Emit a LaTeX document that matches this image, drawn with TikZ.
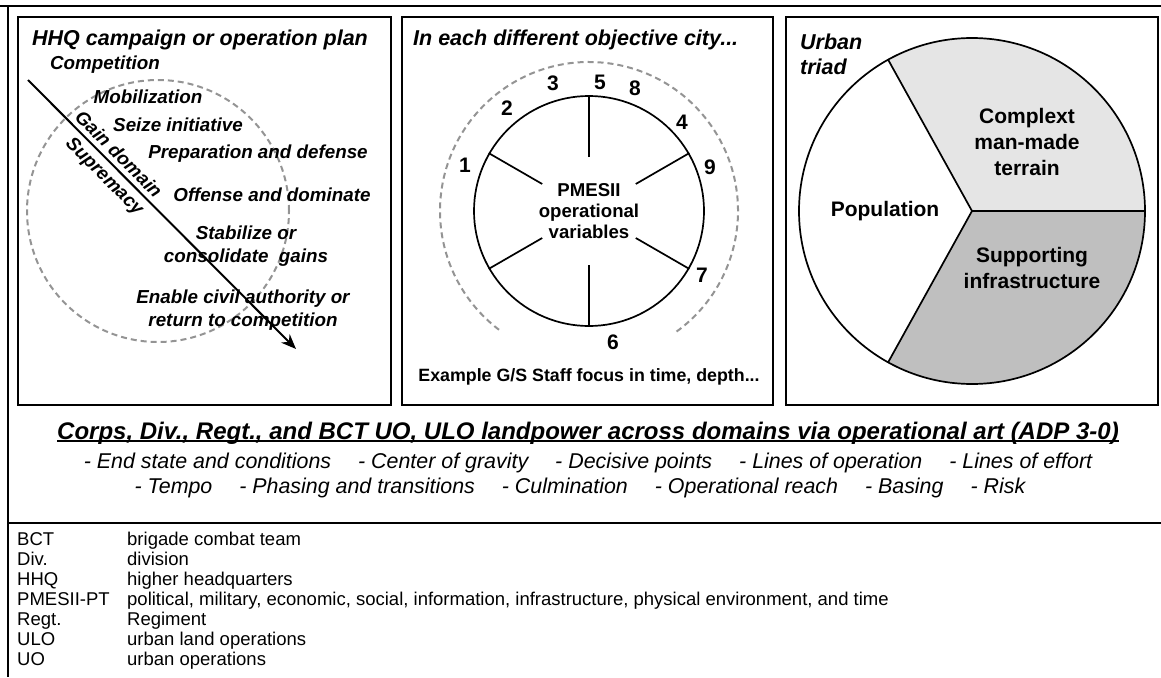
\documentclass[tikz,border=0pt]{standalone}
\usepackage{fontspec}
\setmainfont{Liberation Sans}
\usetikzlibrary{positioning, arrows.meta}

\tikzset{
  panel/.style={draw, line width=2.2pt},
  ringdash/.style={draw=black!42, line width=2pt, dash pattern=on 6pt off 4pt},
  heavy/.style={line width=1.7pt},
  paneltitle/.style={inner sep=0, anchor=west, align=left, font=\fontsize{21.5}{25}\selectfont\bfseries\itshape},
  phase/.style={inner sep=0, align=center, font=\fontsize{18.8}{23}\selectfont\bfseries\itshape},
  varnum/.style={inner sep=0, font=\fontsize{21}{24}\selectfont\bfseries},
  wheeltext/.style={inner sep=0, align=center, font=\fontsize{18.6}{21}\selectfont\bfseries},
  triadlabel/.style={inner sep=0, align=center, font=\fontsize{21}{26}\selectfont\bfseries},
  artline/.style={inner sep=0, font=\fontsize{21.4}{25}\selectfont\itshape},
  abbr/.style={inner sep=0, anchor=base west, font=\fontsize{18.5}{21}\selectfont},
}

\begin{document}
\begin{tikzpicture}[x=1pt, y=1pt]
    \useasboundingbox (0,0) rectangle (1161,-677);
    \draw[line width=2.5pt] (0,-6) -- (1161,-6);
    \draw[line width=2.5pt] (8,-6) -- (8,-677);
    \draw[line width=2.5pt] (8,-523) -- (1161,-523);

    \draw[panel] (18,-17) rectangle (391,-405);
    \draw[panel] (402,-17) rectangle (773,-405);
    \draw[panel] (786,-17) rectangle (1158,-405);

    \node[paneltitle] (plan) at (32,-40) {HHQ campaign or operation plan};
    \draw[ringdash] (158,-211) circle[radius=131];
    \node[phase] (competition) at (105,-65) {Competition};
    \node[phase] (mobilization) at (148,-97) {Mobilization};
    \node[phase] (initiative) at (178,-125) {Seize initiative};
    \node[phase] (defense) at (258,-154) {Preparation and defense};
    \node[phase] (dominate) at (272,-195) {Offense and dominate};
    \node[phase] (stabilize) at (246,-246) {Stabilize or\\consolidate~ gains};
    \node[phase] (enable) at (243,-310) {Enable civil authority or\\return to competition};
    \coordinate (gainstart) at (28,-80);
    \coordinate (gainend) at (296,-349);
    \draw[line width=2pt, -{Stealth[length=15pt, width=12pt]}] (gainstart) -- (gainend);
    \node[phase, rotate=-45] (gaindomain) at (119,-154) {Gain domain};
    \node[phase, rotate=-45] (supremacy) at (104,-177) {Supremacy};

    \node[paneltitle] (city) at (413,-40) {In each different objective city...};
    \node[circle, draw, heavy, minimum size=230pt, inner sep=0] (wheel) at (589,-211) {};
    \draw[ringdash] (wheel.center) ++(-54:149) arc[start angle=-54, end angle=234, radius=149];
    \draw[heavy] (wheel.center) ++(90:54) -- (wheel.90);
    \draw[heavy] (wheel.center) ++(30:54) -- (wheel.30);
    \draw[heavy] (wheel.center) ++(150:54) -- (wheel.150);
    \draw[heavy] (wheel.center) ++(210:54) -- (wheel.210);
    \draw[heavy] (wheel.center) ++(270:54) -- (wheel.270);
    \draw[heavy] (wheel.center) ++(330:54) -- (wheel.330);
    \node[wheeltext] (pmesii) at (wheel.center) {PMESII\\operational\\variables};
    \node[varnum] (n1) at (465,-165) {1};
    \node[varnum] (n2) at (507,-108) {2};
    \node[varnum] (n3) at (553,-83) {3};
    \node[varnum] (n5) at (600,-82) {5};
    \node[varnum] (n8) at (635,-88) {8};
    \node[varnum] (n4) at (682,-122) {4};
    \node[varnum] (n9) at (710,-167) {9};
    \node[varnum] (n7) at (702,-275) {7};
    \node[varnum] (n6) at (613,-342) {6};
    \node[wheeltext, font=\fontsize{17.8}{21}\selectfont\bfseries] (staff) at (589,-377) {Example G/S Staff focus in time, depth...};

    \node[paneltitle] (urban) at (800,-54) {Urban\\triad};
    \coordinate (triad) at (972,-211);
    \fill[black!10] (triad) -- ++(0:173) arc[start angle=0, end angle=119, radius=173] -- cycle;
    \fill[black!25] (triad) -- ++(241:173) arc[start angle=241, end angle=360, radius=173] -- cycle;
    \draw[heavy] (triad) circle[radius=173];
    \draw[heavy] (triad) -- ++(0:173);
    \draw[heavy] (triad) -- ++(119:173);
    \draw[heavy] (triad) -- ++(241:173);
    \node[triadlabel] (terrain) at (1027,-142) {Complext\\man-made\\terrain};
    \node[triadlabel] (population) at (885,-211) {Population};
    \node[triadlabel] (infra) at (1032,-268) {Supporting\\infrastructure};

    \node[inner sep=0, font=\fontsize{24}{28}\selectfont\bfseries\itshape] (art) at (588,-433) {Corps, Div., Regt., and BCT UO, ULO landpower across domains via operational art (ADP 3-0)};
    \draw[line width=1.6pt] ([yshift=-2pt]art.base west) -- ([yshift=-2pt]art.base east);
    \node[artline] (elements1) at (588,-463) {- End state and conditions\hspace{27pt}- Center of gravity\hspace{27pt}- Decisive points\hspace{27pt}- Lines of operation\hspace{27pt}- Lines of effort};
    \node[artline] (elements2) at (580,-488) {- Tempo\hspace{27pt}- Phasing and transitions\hspace{27pt}- Culmination\hspace{27pt}- Operational reach\hspace{27pt}- Basing\hspace{27pt}- Risk};

    \node[abbr] (a1) at (17,-545) {BCT};
    \node[abbr] (a2) at (17,-565) {Div.};
    \node[abbr] (a3) at (17,-585) {HHQ};
    \node[abbr] (a4) at (17,-605) {PMESII-PT};
    \node[abbr] (a5) at (17,-625) {Regt.};
    \node[abbr] (a6) at (17,-645) {ULO};
    \node[abbr] (a7) at (17,-665) {UO};
    \node[abbr] (d1) at (127,-545) {brigade combat team};
    \node[abbr] (d2) at (127,-565) {division};
    \node[abbr] (d3) at (127,-585) {higher headquarters};
    \node[abbr] (d4) at (127,-605) {political, military, economic, social, information, infrastructure, physical environment, and time};
    \node[abbr] (d5) at (127,-625) {Regiment};
    \node[abbr] (d6) at (127,-645) {urban land operations};
    \node[abbr] (d7) at (127,-665) {urban operations};
\end{tikzpicture}
\end{document}
